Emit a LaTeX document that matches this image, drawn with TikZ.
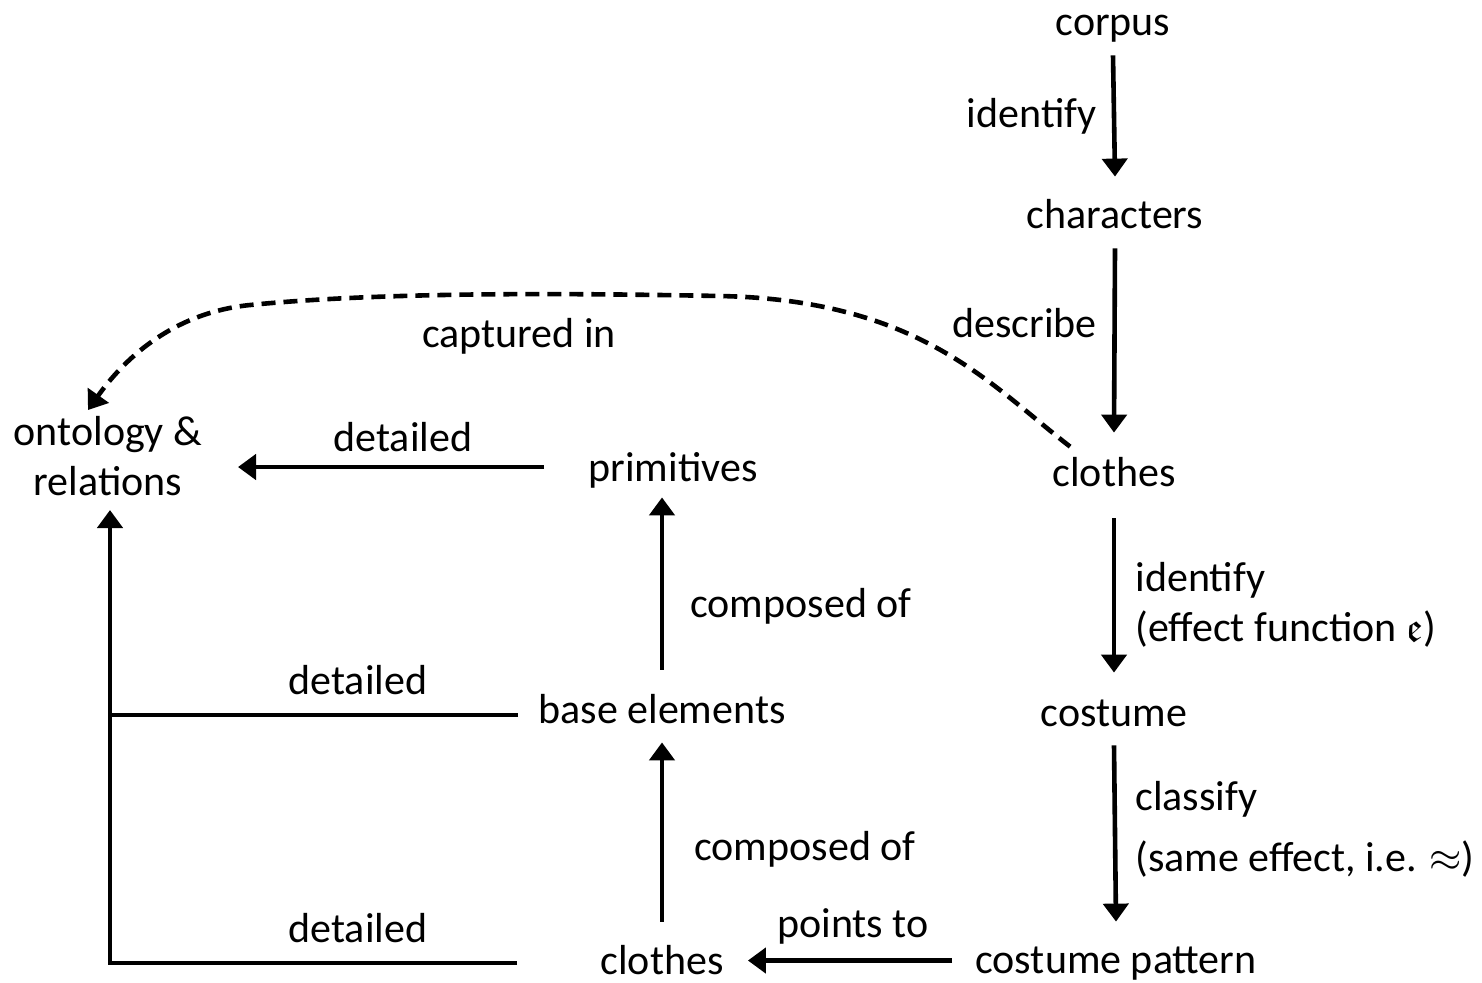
\documentclass[tikz,border=0pt]{standalone}
\usepackage{amssymb}
\usepackage{fontspec}
\setmainfont{Carlito}
\usetikzlibrary{arrows.meta,calc}
\begin{document}
\begin{tikzpicture}[x=0.5pt,y=-0.5pt,
  every node/.style={font=\fontsize{21}{25}\selectfont, inner sep=0pt},
  term/.style={text height=15pt, text depth=4.5pt, anchor=base},
  lbl/.style={anchor=base},
  lbll/.style={anchor=base west},
  arr/.style={line width=2.3pt, -{Triangle[length=9pt,width=12.5pt]}},
  ln/.style={line width=2.3pt},
  dashedarr/.style={line width=2.3pt, dash pattern=on 7pt off 4pt, -{Triangle[length=9pt,width=12.5pt]}},
]
\useasboundingbox (0,0) rectangle (1482,982);

% terms
\node[term] (corpus)   at (1113,35)  {corpus};
\node[term] (chars)    at (1115,228) {characters};
\node[term] (clothes)  at (1114,486) {clothes};
\node[term] (costume)  at (1114,726) {costume};
\node[term] (pattern)  at (1116,973) {costume pattern};
\node[term] (clothesb) at (662,974)  {clothes};
\node[term] (base)     at (662,723)  {base elements};
\node[term] (prim)     at (673,481)  {primitives};
\node[anchor=base, align=center] (onto) at (108,495) {ontology \&\\relations};

% free ends and junctions on the left
\coordinate (ontoR) at (238,467);
\coordinate (ontoB) at (110,510);
\coordinate (ontoT) at (88,410);
\coordinate (j1) at (110,715);
\coordinate (j2) at (110,963);

% right column
\draw[arr] ([yshift=-5.5pt]corpus.south) -- ([yshift=10.5pt]chars.north);
\draw[arr] ([yshift=-5.5pt]chars.south) -- ([yshift=11.5pt]clothes.north);
\draw[arr] ([yshift=-11.5pt]clothes.south) -- ([yshift=11.5pt]costume.north);
\draw[arr] ([yshift=-5pt]costume.south) -- ([yshift=10.5pt]pattern.north);
\draw[arr] ($(pattern.west)+(-23,-2)$) -- ($(clothesb.east)+(24,-3)$);

% middle column
\draw[arr] ([yshift=11pt]clothesb.north) -- ([yshift=-5pt]base.south);
\draw[arr] ([yshift=11.5pt]base.north) -- ($(base.north |- prim.south)+(0,7)$);
\draw[arr] ($(prim.west)+(-44,-3.5)$) -- (ontoR);

% left tree
\draw[ln] ($(base.west)+(-20,2.5)$) -- (j1);
\draw[arr] ($(clothesb.west)+(-83,-0.5)$) -- (j2) -- (ontoB);

% captured in
\draw[dashedarr] ($(clothes.north west)+(18,-9)$)
  .. controls (990,385) and (920,300) .. (720,296)
  .. controls (560,293) and (380,292) .. (250,305)
  .. controls (170,313) and (122,362) .. (ontoT);

% labels
\node[lbl, anchor=base east] (l1) at (1097,127) {identify};
\node[lbl, anchor=base east] (l2) at (1097,337) {describe};
\node[lbl] (l3) at (519,347) {captured in};
\node[lbll] (l4) at (1135,591) {identify};
\node[lbll] (l5) at (1135,641) {(effect function $\mathfrak{e}$)};
\node[lbll] (l6) at (1135,810) {classify};
\node[lbll] (l7) at (1135,871) {(same effect, i.e. $\approx$)};
\node[lbl] (l8) at (853,937) {points to};
\node[lbll] (l9) at (694,860) {composed of};
\node[lbll] (l10) at (690,617) {composed of};
\node[lbl] (l11) at (403,451) {detailed};
\node[lbl] (l12) at (358,694) {detailed};
\node[lbl] (l13) at (358,942) {detailed};
\end{tikzpicture}
\end{document}
